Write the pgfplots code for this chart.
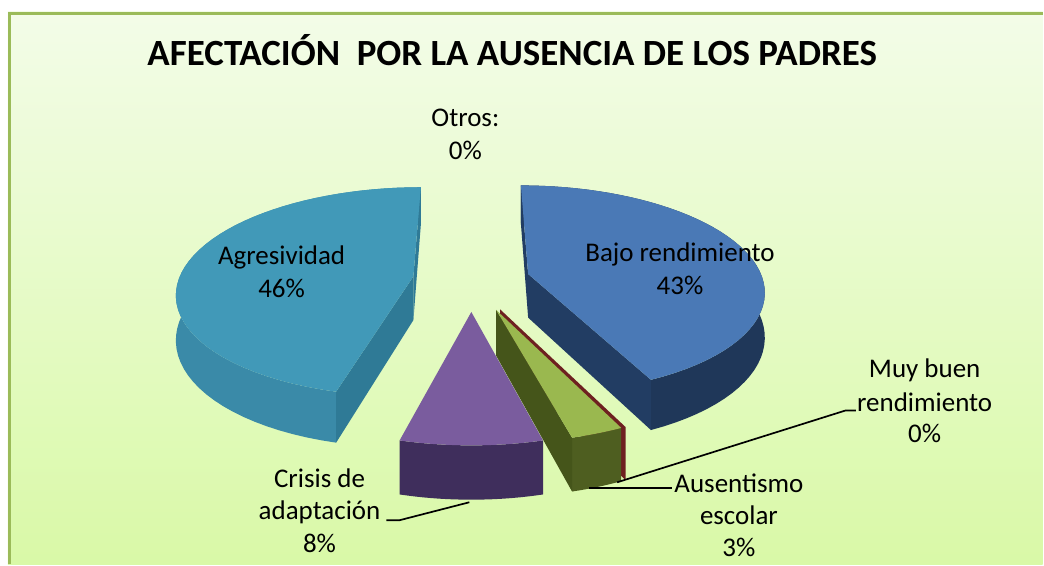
\documentclass[border=0pt]{standalone}
\usepackage{pgfplots}
\pgfplotsset{compat=1.18}
\usepackage{fontspec}
\setmainfont{Carlito}

\definecolor{bgtop}{HTML}{F3FCE8}
\definecolor{bgbot}{HTML}{D9F9A7}
\definecolor{frame}{HTML}{9BBB59}
\definecolor{aggTop}{HTML}{4199B8}
\definecolor{aggWall}{HTML}{3A8AA8}
\definecolor{aggSide}{HTML}{2F7A96}
\definecolor{bajTop}{HTML}{4A79B6}
\definecolor{bajWall}{HTML}{1F3759}
\definecolor{bajSide}{HTML}{223D63}
\definecolor{ausTop}{HTML}{9AB84F}
\definecolor{ausWall}{HTML}{4E5E20}
\definecolor{ausSide}{HTML}{45551A}
\definecolor{criTop}{HTML}{7A5C9E}
\definecolor{criWall}{HTML}{3F2E5C}
\definecolor{criSide}{HTML}{3A2A55}
\definecolor{muyWall}{HTML}{6E2020}

% values (percent)
\def\vBajo{43}
\def\vMuy{0}
\def\vAus{3}
\def\vCri{8}
\def\vAgr{46}
\def\vOtr{0}
\def\hh{44}

% #1 start pct, #2 pct, #3 explode, #4 top, #5 outer wall, #6 radial wall
\newcommand\pieslice[6]{%
  \pgfmathsetmacro\pSa{3.6*(#1)}%
  \pgfmathsetmacro\pSb{3.6*((#1)+(#2))}%
  \pgfmathsetmacro\pSm{(\pSa+\pSb)/2}%
  \pgfmathsetmacro\pOx{(#3)*sin(\pSm)}%
  \pgfmathsetmacro\pOz{(#3)*cos(\pSm)}%
  % outer wall
  \fill[#5] plot[domain=\pSa:\pSb, samples=50, variable=\ang]
     (axis cs:{projx(\pOx+sin(\ang),\pOz+cos(\ang))},{projy(\pOx+sin(\ang),\pOz+cos(\ang),0)})
     -- plot[domain=\pSb:\pSa, samples=50, variable=\ang]
     (axis cs:{projx(\pOx+sin(\ang),\pOz+cos(\ang))},{projy(\pOx+sin(\ang),\pOz+cos(\ang),\hh)}) -- cycle;
  % radial wall at start angle (if facing viewer)
  \pgfmathparse{\pOx*cos(\pSa)-(6.8+\pOz)*sin(\pSa)}%
  \ifdim\pgfmathresult pt>0pt
    \fill[#6] (axis cs:{projx(\pOx,\pOz)},{projy(\pOx,\pOz,0)})
      -- (axis cs:{projx(\pOx+sin(\pSa),\pOz+cos(\pSa))},{projy(\pOx+sin(\pSa),\pOz+cos(\pSa),0)})
      -- (axis cs:{projx(\pOx+sin(\pSa),\pOz+cos(\pSa))},{projy(\pOx+sin(\pSa),\pOz+cos(\pSa),\hh)})
      -- (axis cs:{projx(\pOx,\pOz)},{projy(\pOx,\pOz,\hh)}) -- cycle;
  \fi
  % radial wall at end angle (if facing viewer)
  \pgfmathparse{-\pOx*cos(\pSb)+(6.8+\pOz)*sin(\pSb)}%
  \ifdim\pgfmathresult pt>0pt
    \fill[#6] (axis cs:{projx(\pOx,\pOz)},{projy(\pOx,\pOz,0)})
      -- (axis cs:{projx(\pOx+sin(\pSb),\pOz+cos(\pSb))},{projy(\pOx+sin(\pSb),\pOz+cos(\pSb),0)})
      -- (axis cs:{projx(\pOx+sin(\pSb),\pOz+cos(\pSb))},{projy(\pOx+sin(\pSb),\pOz+cos(\pSb),\hh)})
      -- (axis cs:{projx(\pOx,\pOz)},{projy(\pOx,\pOz,\hh)}) -- cycle;
  \fi
  % top face
  \fill[#4] (axis cs:{projx(\pOx,\pOz)},{projy(\pOx,\pOz,0)})
     -- plot[domain=\pSa:\pSb, samples=50, variable=\ang]
     (axis cs:{projx(\pOx+sin(\ang),\pOz+cos(\ang))},{projy(\pOx+sin(\ang),\pOz+cos(\ang),0)}) -- cycle;
}
% zero slice: only its radial wall. #1 start pct, #2 explode, #3 explode direction (deg), #4 colour
\newcommand\piezero[4]{%
  \pgfmathsetmacro\pSa{3.6*(#1)}%
  \pgfmathsetmacro\pOx{(#2)*sin(#3)}%
  \pgfmathsetmacro\pOz{(#2)*cos(#3)}%
  \fill[#4] (axis cs:{projx(\pOx,\pOz)},{projy(\pOx,\pOz,0)})
      -- (axis cs:{projx(\pOx+sin(\pSa),\pOz+cos(\pSa))},{projy(\pOx+sin(\pSa),\pOz+cos(\pSa),0)})
      -- (axis cs:{projx(\pOx+sin(\pSa),\pOz+cos(\pSa))},{projy(\pOx+sin(\pSa),\pOz+cos(\pSa),\hh)})
      -- (axis cs:{projx(\pOx,\pOz)},{projy(\pOx,\pOz,\hh)}) -- cycle;
}

\begin{document}
\begin{tikzpicture}[declare function={
    pden(\b)=1+0.147*\b;
    projx(\a,\b)=472+235*\a/pden(\b);
    projy(\a,\b,\h)=285+(103.3*\b-\h)/pden(\b);
  }]
\begin{axis}[x=1pt, y=1pt, xmin=0, xmax=1044, ymin=0, ymax=565,
  hide axis, clip=false, scale only axis]
\addplot[draw=none, forget plot] coordinates {(0,0) (1044,565)};
\pgfplotsextra{%
  \fill[white] (axis cs:0,0) rectangle (axis cs:1044,565);
  \shade[top color=bgtop, bottom color=bgbot] (axis cs:8,0) rectangle (axis cs:1044,553);
  \draw[frame, line width=3pt] (axis cs:9.5,0) -- (axis cs:9.5,551.5) -- (axis cs:1044,551.5);
  % slices, back to front
  \pgfmathsetmacro\sBajo{0}%
  \pgfmathsetmacro\sMuy{\vBajo}%
  \pgfmathsetmacro\sAus{\vBajo+\vMuy}%
  \pgfmathsetmacro\sCri{\vBajo+\vMuy+\vAus}%
  \pgfmathsetmacro\sAgr{\vBajo+\vMuy+\vAus+\vCri}%
  \pieslice{\sAgr}{\vAgr}{0.25}{aggTop}{aggWall}{aggSide}%
  \pieslice{\sBajo}{\vBajo}{0.25}{bajTop}{bajWall}{bajSide}%
  \piezero{\sMuy}{0.3}{157}{muyWall}%
  \pieslice{\sAus}{\vAus}{0.3}{ausTop}{ausWall}{ausSide}%
  \pieslice{\sCri}{\vCri}{0.3}{criTop}{criWall}{criSide}%
  % leader lines
  \draw[black, line width=1.7pt] (axis cs:387,44) -- (axis cs:400,44) -- (axis cs:470,62);
  \draw[black, line width=1.7pt] (axis cs:590,76) -- (axis cs:673,76);
  \draw[black, line width=1.7pt] (axis cs:618,82) -- (axis cs:847,154) -- (axis cs:857,154);
}
% title
\node[anchor=base, font=\fontsize{37}{40}\selectfont\bfseries] at (axis cs:513,499)
  {AFECTACIÓN\ \ POR LA AUSENCIA DE LOS PADRES};
% labels
\tikzset{lbl/.style={anchor=base, inner sep=0pt, font=\fontsize{27}{32}\selectfont}}
\node[lbl] at (axis cs:466,438) {Otros:};
\node[lbl] at (axis cs:466,405) {0\%};
\node[lbl] at (axis cs:282,300) {Agresividad};
\node[lbl] at (axis cs:282,267) {46\%};
\node[lbl] at (axis cs:681,303) {Bajo rendimiento};
\node[lbl] at (axis cs:681,270) {43\%};
\node[lbl] at (axis cs:926,187) {Muy buen};
\node[lbl] at (axis cs:926,153) {rendimiento};
\node[lbl] at (axis cs:926,122) {0\%};
\node[lbl] at (axis cs:320,77) {Crisis de};
\node[lbl] at (axis cs:320,45) {adaptación};
\node[lbl] at (axis cs:320,12) {8\%};
\node[lbl] at (axis cs:740,72) {Ausentismo};
\node[lbl] at (axis cs:740,40) {escolar};
\node[lbl] at (axis cs:740,8) {3\%};
\end{axis}
\end{tikzpicture}
\end{document}
